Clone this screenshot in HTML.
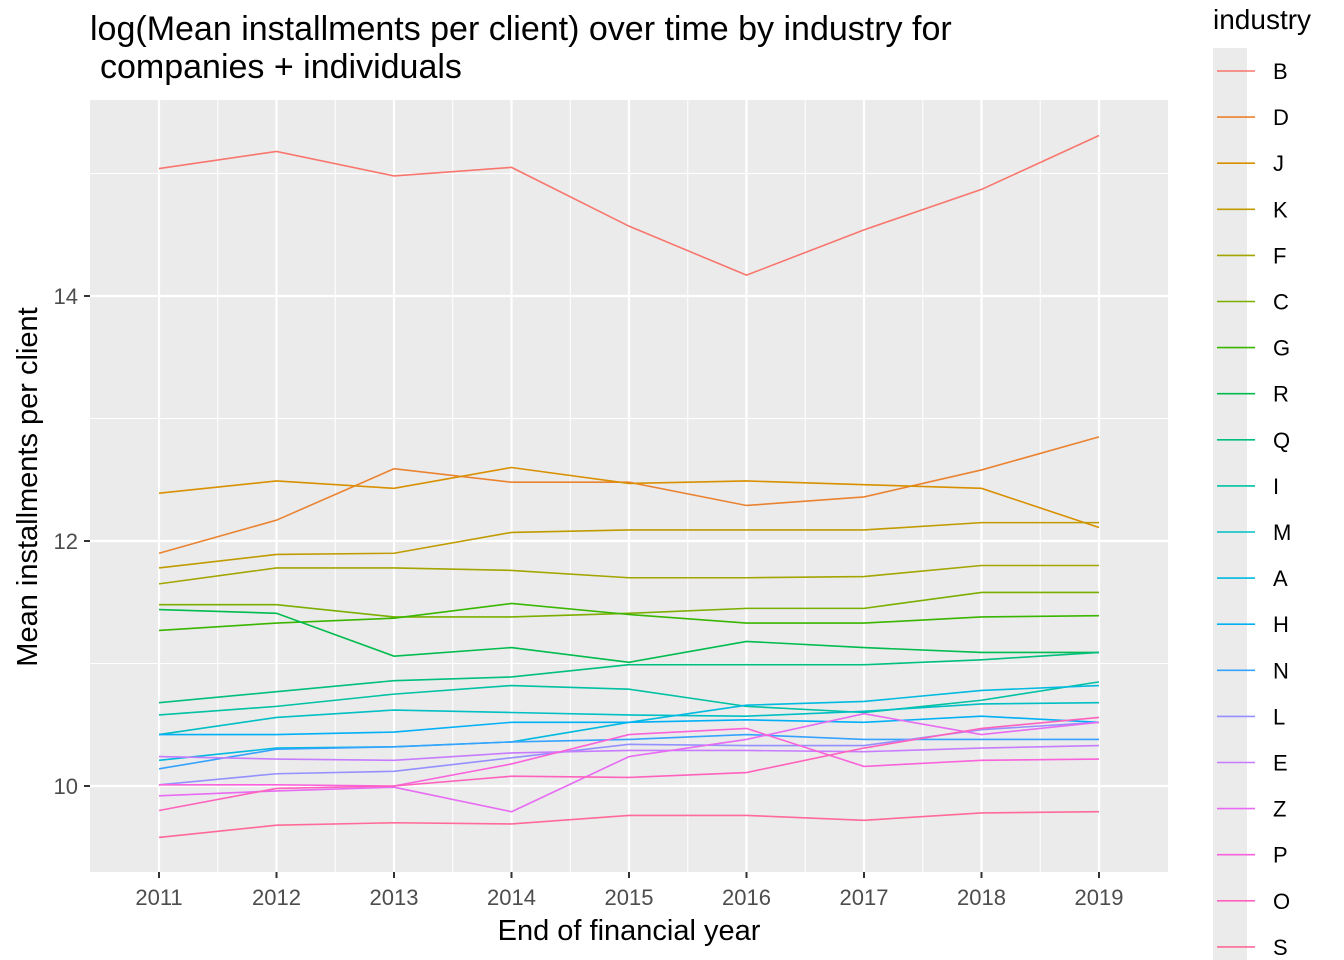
<!DOCTYPE html>
<html><head><meta charset="utf-8"><style>
body{margin:0;background:#fff;}
svg{display:block;font-family:"Liberation Sans",Arial,sans-serif;}
</style></head><body>
<svg id="c" width="1344" height="960" xmlns="http://www.w3.org/2000/svg">
<text x="90" y="40" font-size="34" fill="#000">log(Mean installments per client) over time by industry for</text>
<text x="100" y="78" font-size="34" fill="#000">companies + individuals</text>
<rect x="90" y="100" width="1078" height="772" fill="#EBEBEB"/>
<g id="grid"></g><g id="lines"></g><g id="axes"></g><g id="legend"></g>
<text x="629" y="940" font-size="29" text-anchor="middle">End of financial year</text>
<text transform="translate(37,487) rotate(-90)" font-size="29" text-anchor="middle">Mean installments per client</text>
</svg>
<script>
const years=[2011,2012,2013,2014,2015,2016,2017,2018,2019];
const industries=["B","D","J","K","F","C","G","R","Q","I","M","A","H","N","L","E","Z","P","O","S"];
const sB=[15.04,15.18,14.98,15.05,14.57,14.17,14.54,14.87,15.31];
const sD=[11.90,12.17,12.59,12.48,12.48,12.29,12.36,12.58,12.85];
const sJ=[12.39,12.49,12.43,12.60,12.47,12.49,12.46,12.43,12.11];
const sK=[11.78,11.89,11.90,12.07,12.09,12.09,12.09,12.15,12.15];
const sF=[11.65,11.78,11.78,11.76,11.70,11.70,11.71,11.80,11.80];
const sC=[11.48,11.48,11.38,11.38,11.41,11.45,11.45,11.58,11.58];
const sG=[11.27,11.33,11.37,11.49,11.40,11.33,11.33,11.38,11.39];
const sR=[11.44,11.41,11.06,11.13,11.01,11.18,11.13,11.09,11.09];
const sQ=[10.68,10.77,10.86,10.89,10.99,10.99,10.99,11.03,11.09];
const sI=[10.58,10.65,10.75,10.82,10.79,10.65,10.60,10.70,10.85];
const sM=[10.42,10.56,10.62,10.60,10.58,10.57,10.61,10.67,10.68];
const sA=[10.21,10.31,10.32,10.36,10.52,10.66,10.69,10.78,10.82];
const sH=[10.42,10.42,10.44,10.52,10.52,10.54,10.52,10.57,10.52];
const sN=[10.14,10.30,10.32,10.36,10.38,10.42,10.38,10.38,10.38];
const sL=[10.01,10.10,10.12,10.23,10.34,10.33,10.33,10.46,10.52];
const sE=[10.24,10.22,10.21,10.27,10.29,10.29,10.28,10.31,10.33];
const sZ=[9.92,9.96,9.99,9.79,10.24,10.38,10.59,10.42,10.52];
const sP=[10.01,10.01,10.00,10.18,10.42,10.47,10.16,10.21,10.22];
const sO=[9.80,9.98,10.00,10.08,10.07,10.11,10.31,10.47,10.56];
const sS=[9.58,9.68,9.70,9.69,9.76,9.76,9.72,9.78,9.79];
const series=[sB,sD,sJ,sK,sF,sC,sG,sR,sQ,sI,sM,sA,sH,sN,sL,sE,sZ,sP,sO,sS];
const yTicks=[10,12,14];
const xScale=y=>159+(y-2011)*117.5;
const yScale=v=>786-(v-10)*122.5;
const NS="http://www.w3.org/2000/svg";
function mk(tag,attrs,parent){const e=document.createElementNS(NS,tag);for(const k in attrs)e.setAttribute(k,attrs[k]);parent.appendChild(e);return e;}
function hcl(h,c,l){const hr=h*Math.PI/180;const U=c*Math.cos(hr),V=c*Math.sin(hr);
 const Xn=95.047,Yn=100,Zn=108.883;const un=4*Xn/(Xn+15*Yn+3*Zn),vn=9*Yn/(Xn+15*Yn+3*Zn);
 const Y=l>8?Yn*Math.pow((l+16)/116,3):Yn*l/903.3;const u=U/(13*l)+un,v=V/(13*l)+vn;
 const X=Y*9*u/(4*v),Z=Y*(12-3*u-20*v)/(4*v);
 const x=X/100,y=Y/100,z=Z/100;
 let r=3.2406*x-1.5372*y-0.4986*z,g=-0.9689*x+1.8758*y+0.0415*z,b=0.0557*x-0.2040*y+1.0570*z;
 const f=t=>{t=t<=0.0031308?12.92*t:1.055*Math.pow(t,1/2.4)-0.055;return Math.round(Math.max(0,Math.min(1,t))*255);};
 return `rgb(${f(r)},${f(g)},${f(b)})`;}
const colors=industries.map((_,i)=>hcl(15+i*360/industries.length,100,65));
const grid=document.getElementById('grid');
[9,11,13,15].forEach(v=>{const y=yScale(v);if(y>100&&y<872){const l=mk('line',{x1:90,x2:1168,y1:y,y2:y,stroke:'#fff','stroke-width':1},grid);

}});
years.slice(0,-1).forEach(yr=>{const x=xScale(yr+0.5);const l=mk('line',{x1:x,x2:x,y1:100,y2:872,stroke:'#fff','stroke-width':1},grid);

});
const axes=document.getElementById('axes');
yTicks.forEach(v=>{const y=yScale(v);const l=mk('line',{x1:90,x2:1168,y1:y,y2:y,stroke:'#fff','stroke-width':2.2},grid);


const t=mk('line',{x1:84,x2:90,y1:y,y2:y,stroke:'#333','stroke-width':2},axes);


const tx=mk('text',{x:78,y:y+8,'font-size':22,'text-anchor':'end',fill:'#4D4D4D'},axes);tx.textContent=v;

});
years.forEach(yr=>{const x=xScale(yr);const l=mk('line',{x1:x,x2:x,y1:100,y2:872,stroke:'#fff','stroke-width':2.2},grid);


const t=mk('line',{x1:x,x2:x,y1:872,y2:878,stroke:'#333','stroke-width':2},axes);


const tx=mk('text',{x:x,y:905,'font-size':22,'text-anchor':'middle',fill:'#4D4D4D'},axes);tx.textContent=yr;

});
const lines=document.getElementById('lines');
series.forEach((s,i)=>{const pts=s.map((v,j)=>xScale(years[j])+','+yScale(v)).join(' ');
const p=mk('polyline',{points:pts,fill:'none',stroke:colors[i],'stroke-width':1.6},lines);

});
const lg=document.getElementById('legend');
const tt=mk('text',{x:1213,y:29,'font-size':28},lg);tt.textContent='industry';


const bg=mk('rect',{x:1213,y:48,width:34,height:912,fill:'#EBEBEB'},lg);


industries.forEach((name,i)=>{const y=71+i*46.1;
const l=mk('line',{x1:1217,x2:1255,y1:y,y2:y,stroke:colors[i],'stroke-width':1.6},lg);


const t=mk('text',{x:1273,y:y+8,'font-size':22},lg);t.textContent=name;

});
</script>
</body></html>
